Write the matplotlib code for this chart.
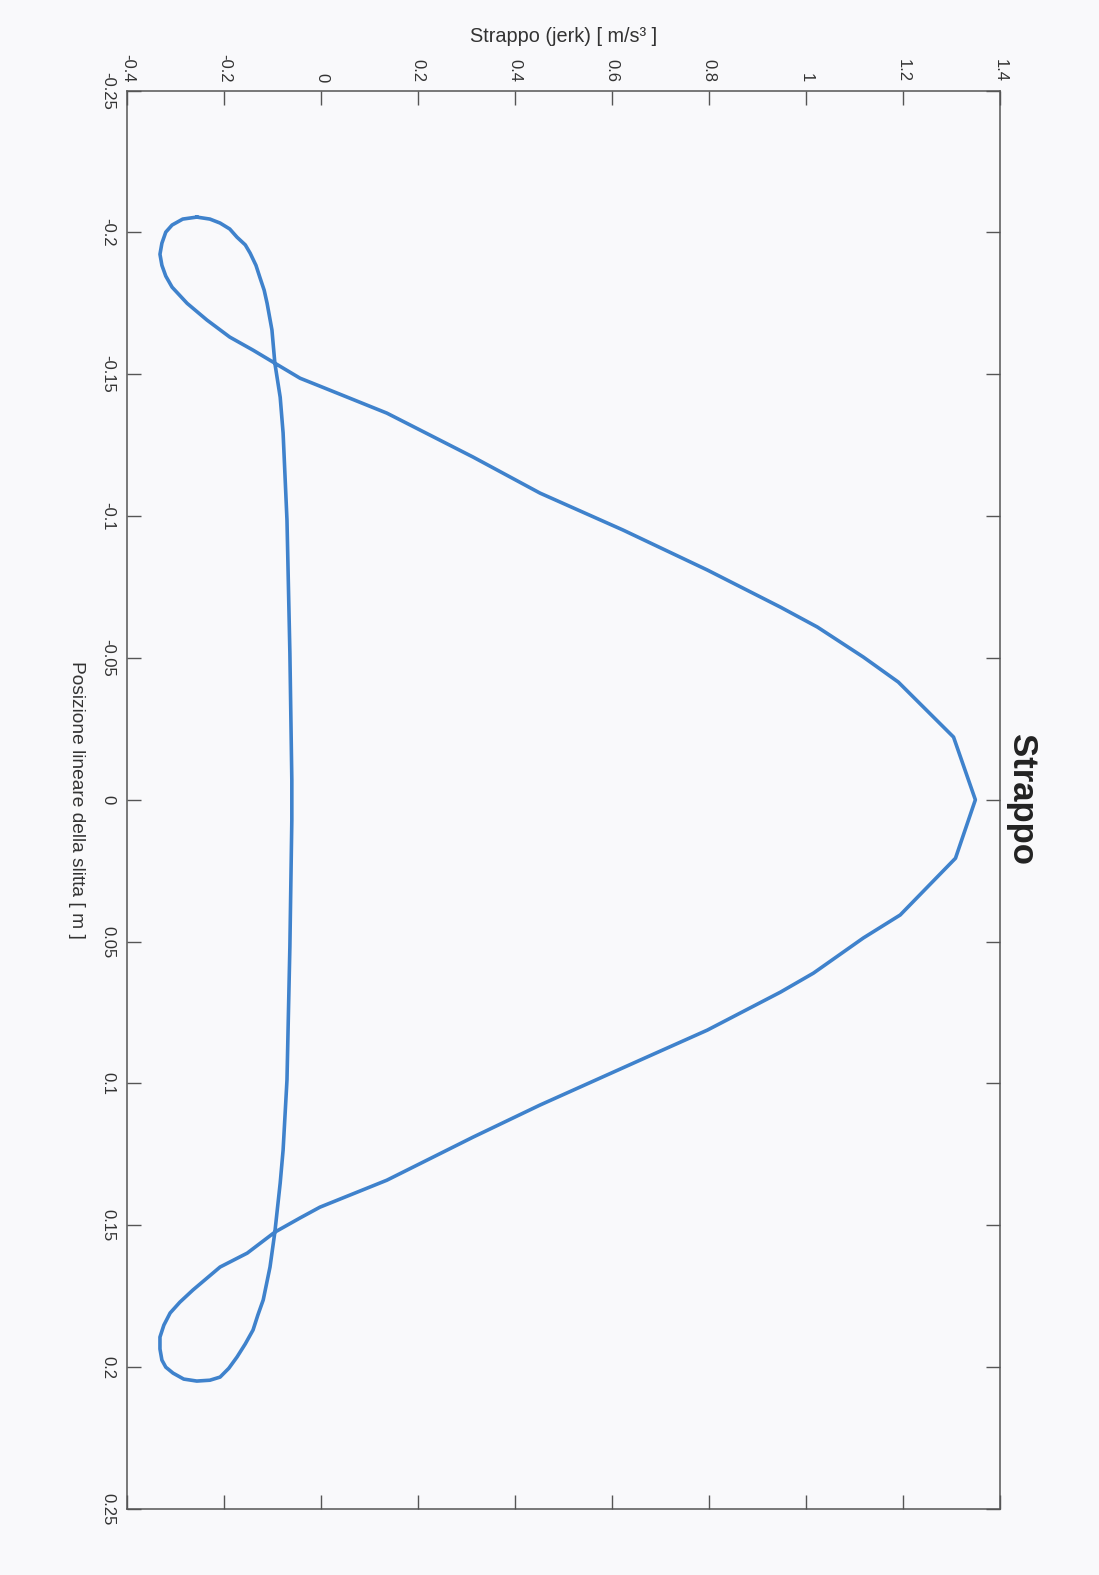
import numpy as np
import matplotlib
matplotlib.use('Agg')
import matplotlib.pyplot as plt
from matplotlib.ticker import FuncFormatter

plt.rcParams['font.family'] = ['Liberation Sans', 'DejaVu Sans']

#
# jerk vs slider position
# (points follow the curve: top loop -> big arch -> bottom loop -> flat branch)
#
pos = [-0.2054, -0.2047, -0.2026, -0.2001, -0.1962, -0.1923, -0.1884, -0.1846, -0.1807, -0.1750,
       -0.1691, -0.1631, -0.1585, -0.1539, -0.1486, -0.1458, -0.1363, -0.1208, -0.1081, -0.0951,
       -0.0810, -0.0679, -0.0609, -0.0503, -0.0415, -0.0221, 0.0, 0.0206, 0.0406, 0.0487,
       0.0611, 0.0678, 0.0812, 0.0918, 0.1076, 0.1189, 0.1341, 0.1436, 0.1474, 0.1524,
       0.1598, 0.1647, 0.1728, 0.1771, 0.1809, 0.1852, 0.1894, 0.1936, 0.1975, 0.2000,
       0.2021, 0.2042, 0.2049, 0.2046, 0.2035, 0.2004, 0.1964, 0.1918, 0.1869, 0.1816,
       0.1763, 0.1647, 0.1524, 0.1351, 0.1235, 0.0988, 0.0516, 0.0072, -0.0070, -0.0517,
       -0.0986, -0.1293, -0.1419, -0.1539, -0.1656, -0.1750, -0.1796, -0.1842, -0.1884, -0.1927,
       -0.1956, -0.1983, -0.2012, -0.2033, -0.2047, -0.2054]
jerk = [-0.257, -0.286, -0.308, -0.321, -0.329, -0.333, -0.329, -0.321, -0.308, -0.277,
        -0.236, -0.189, -0.141, -0.096, -0.044, -0.003, 0.135, 0.313, 0.451, 0.622,
        0.796, 0.947, 1.023, 1.118, 1.190, 1.304, 1.349, 1.308, 1.194, 1.118,
        1.015, 0.947, 0.796, 0.657, 0.451, 0.313, 0.135, -0.003, -0.044, -0.096,
        -0.153, -0.209, -0.265, -0.292, -0.312, -0.325, -0.333, -0.333, -0.329, -0.321,
        -0.306, -0.284, -0.257, -0.230, -0.209, -0.191, -0.174, -0.157, -0.141, -0.131,
        -0.120, -0.106, -0.096, -0.085, -0.079, -0.071, -0.065, -0.061, -0.061, -0.065,
        -0.071, -0.079, -0.085, -0.096, -0.102, -0.112, -0.118, -0.127, -0.135, -0.147,
        -0.157, -0.174, -0.189, -0.209, -0.230, -0.257]

jerk_ticks = [-0.4, -0.2, 0, 0.2, 0.4, 0.6, 0.8, 1, 1.2, 1.4]
pos_ticks = [-0.25, -0.2, -0.15, -0.1, -0.05, 0, 0.05, 0.1, 0.15, 0.2, 0.25]

title = 'Strappo'
jerk_label = 'Strappo (jerk) [ m/s\u00b3 ]'
pos_label = 'Posizione lineare della slitta [ m ]'

bg = '#f9f9fb'
axcol = '#555555'
txtcol = '#333333'
linecol = '#3f82cc'

#
# the page is a plot turned on its side: jerk runs left->right,
# position runs top->bottom
#
fig = plt.figure(figsize=(10.99, 15.75), dpi=100, facecolor=bg)
ax = fig.add_axes([0.116, 0.0419, 0.794, 0.9006], facecolor=bg)

ax.plot(jerk, pos, color=linecol, lw=2.6, solid_joinstyle='round')

ax.set_xlim(-0.4, 1.4)
ax.set_ylim(0.25, -0.25)
ax.set_xticks(jerk_ticks)
ax.set_yticks(pos_ticks)
fmt = FuncFormatter(lambda v, p: '%g' % round(v, 3))
ax.xaxis.set_major_formatter(fmt)
ax.yaxis.set_major_formatter(fmt)

ax.tick_params(which='both', direction='in', length=10, width=1.0,
               color=axcol, labelcolor=txtcol, labelsize=12,
               top=True, bottom=True, left=True, right=True,
               labeltop=True, labelbottom=False, labelleft=True, labelright=False)
ax.tick_params(axis='x', labelrotation=270, pad=6)
ax.tick_params(axis='y', labelrotation=270, pad=9)
for lab in ax.get_yticklabels():
    lab.set_va('center')

for sp in ax.spines.values():
    sp.set_color(axcol)
    sp.set_linewidth(1.1)

# axis labels
ax.xaxis.set_label_position('top')
ax.set_xlabel(jerk_label, fontsize=14.3, color=txtcol, va='center')
ax.xaxis.set_label_coords(0.5, 1.038)
ax.set_ylabel(pos_label, fontsize=13.8, color=txtcol, rotation=270,
              ha='center', va='center')
ax.yaxis.set_label_coords(-0.058, 0.5)

ax.text(1.024, 0.5, title, transform=ax.transAxes, rotation=270,
        ha='center', va='center', fontsize=25, fontweight='bold', color='#222222')

fig.savefig('out.png', dpi=100, facecolor=bg)
